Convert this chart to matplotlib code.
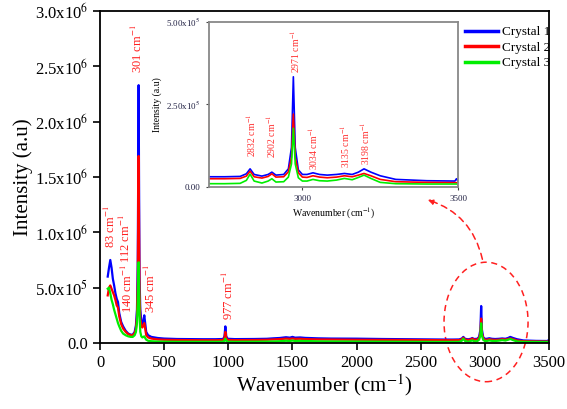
import matplotlib
matplotlib.use('Agg')
import matplotlib.pyplot as plt
from matplotlib.patches import Ellipse, FancyArrowPatch

plt.rcParams['font.family'] = ['Liberation Serif', 'DejaVu Serif']
plt.rcParams['mathtext.fontset'] = 'stix'

# Raman spectra, intensities in units of 1e4 counts
scale = 1e4
wavenumber = [60, 70, 80, 90, 100, 110, 120, 130, 140, 150, 165, 180, 200, 220, 240, 255,
              270, 280, 288, 294, 298, 301, 304, 308, 314, 322, 330, 338, 345, 352, 360,
              375, 400, 450, 500, 600, 700, 800, 900, 960, 970, 977, 984, 995, 1050, 1200,
              1300, 1350, 1400, 1450, 1480, 1500, 1520, 1560, 1600, 1700, 1800, 2000, 2200,
              2400, 2600, 2700, 2750, 2800, 2820, 2832, 2845, 2870, 2890, 2902, 2915, 2940,
              2955, 2965, 2971, 2977, 2987, 3000, 3015, 3034, 3055, 3080, 3110, 3135, 3160,
              3180, 3198, 3220, 3250, 3300, 3400, 3490, 3495, 3500]
crystal1 = [60, 68, 75, 68, 58, 52, 45, 40, 37, 27, 19, 15, 11, 8.5, 7.5, 7.5,
            10, 16, 30, 70, 160, 233, 150, 60, 30, 20, 17, 20, 25, 18, 10,
            7, 5.5, 4.5, 4, 3.6, 3.5, 3.4, 3.4, 3.6, 6, 15, 6, 3.8, 3.5, 3.6,
            3.8, 4.2, 4.5, 5.2, 4.8, 5.5, 4.8, 5.0, 4.6, 4.2, 4.0, 3.9, 3.6,
            3.4, 3.2, 3.1, 3.1, 3.2, 4.0, 5.5, 3.8, 3.3, 3.8, 4.5, 3.6, 3.8,
            5.5, 12, 33.4, 12, 5.2, 3.8, 3.8, 4.3, 3.8, 3.6, 3.8, 4.1, 3.8,
            4.5, 5.5, 4.5, 3.4, 2.3, 1.9, 1.8, 2.5, 1.8]
crystal2 = [43, 50, 52, 49, 46, 43, 39, 34, 32, 24, 17, 13, 10, 8, 7, 7,
            9, 13, 24, 55, 120, 169, 110, 45, 22, 15, 14, 16, 18, 13, 7,
            5, 4, 3.2, 2.9, 2.7, 2.6, 2.5, 2.5, 2.7, 4.5, 10, 4.5, 2.8, 2.6, 2.7,
            2.9, 3.2, 3.5, 3.9, 3.7, 4.0, 3.7, 3.8, 3.5, 3.2, 3.1, 2.9, 2.8,
            2.7, 2.6, 2.5, 2.5, 2.6, 3.3, 4.8, 3.1, 2.7, 3.2, 4.0, 3.0, 3.1,
            4.6, 9, 22.1, 9, 4.3, 3.0, 2.9, 3.4, 3.0, 2.8, 3.0, 3.4, 3.1,
            3.6, 4.1, 3.4, 2.3, 1.6, 1.4, 1.3, 1.3, 1.3]
crystal3 = [49, 50, 45, 39, 35, 30, 26, 22, 18, 15, 11, 8.5, 7, 6, 5.5, 5.5,
            7, 10, 18, 35, 60, 73, 55, 25, 10, 6, 5, 5.5, 6, 4.5, 3,
            2, 1.6, 1.3, 1.2, 1.1, 1.1, 1.1, 1.1, 1.2, 2, 4, 2, 1.2, 1.1, 1.2,
            1.3, 1.4, 1.6, 2.0, 1.8, 2.2, 1.8, 1.9, 1.8, 1.5, 1.4, 1.3, 1.2,
            1.1, 1.0, 1.0, 1.0, 1.1, 2.0, 3.9, 1.8, 1.2, 1.8, 2.5, 1.5, 1.6,
            3.0, 7, 17.8, 7, 2.8, 1.8, 1.8, 2.3, 1.9, 1.8, 2.1, 2.6, 2.2,
            2.9, 3.6, 2.6, 1.4, 1.0, 0.9, 0.9, 0.9, 0.9]
series_names = ['Crystal 1', 'Crystal 2', 'Crystal 3']
series_colors = ['#0000ff', '#ff0000', '#00ee00']

# peak labels: (position of text, height of text base)
main_peaks = ['83', '112', '140', '301', '345', '977']
main_peak_x = [80, 195, 215, 292, 390, 1005]
main_peak_y = [8.6e5, 7.2e5, 2.7e5, 2.44e6, 2.7e5, 2.1e5]
inset_peaks = ['2832', '2902', '2971', '3034', '3135', '3198']
inset_peak_x = [2834, 2901, 2976, 3036, 3138, 3202]
inset_peak_y = [9.1e4, 8.8e4, 3.45e5, 5.2e4, 5.8e4, 6.7e4]

main_yticks = [0, 0.5e6, 1.0e6, 1.5e6, 2.0e6, 2.5e6, 3.0e6]
main_ytick_labels = ['0.0', '5.0x10$^{5}$', '1.0x10$^{6}$', '1.5x10$^{6}$',
                     '2.0x10$^{6}$', '2.5x10$^{6}$', '3.0x10$^{6}$']
inset_yticks = [0, 2.5e5, 5e5]
inset_ytick_labels = ['0.00', '2.50x10$^{5}$', '5.00x10$^{5}$']

spectra = [[v * scale for v in s] for s in (crystal1, crystal2, crystal3)]

fig = plt.figure(figsize=(5.67, 4.09), dpi=100)
ax = fig.add_axes([0.1764, 0.1614, 0.7919, 0.8117])

for ys, name, c in zip(spectra, series_names, series_colors):
    ax.plot(wavenumber, ys, color=c, lw=1.6, label=name)

ax.set_xlim(0, 3500)
ax.set_ylim(0, 3e6)
ax.set_xticks(range(0, 3501, 500))
ax.set_yticks(main_yticks)
ax.set_yticklabels(main_ytick_labels)
ax.tick_params(labelsize=12, direction='out', length=5, width=1.2)
for sp in ax.spines.values():
    sp.set_linewidth(1.3)
ax.set_xlabel('Wavenumber (cm$^{-1}$)', fontsize=15, labelpad=1)
ax.set_ylabel('Intensity (a.u)', fontsize=15, labelpad=1)

for lab, px, py in zip(main_peaks, main_peak_x, main_peak_y):
    ax.text(px, py, lab + ' cm$^{-1}$', rotation=90, color='#ff2020', fontsize=9,
            ha='center', va='bottom')

leg = ax.legend(loc='upper left', bbox_to_anchor=(0.812, 0.955), frameon=False,
                fontsize=9.5, handlelength=2.5, handletextpad=0.3, labelspacing=0.25,
                borderpad=0, borderaxespad=0)
for line in leg.get_lines():
    line.set_linewidth(2.5)

# dashed ellipse round the C-H region and arrow to the inset
ell = Ellipse((3009, 1.9e5), 655, 1.08e6, fill=False, ec='#ff2020', ls=(0, (4, 3)),
              lw=1.1, clip_on=False)
ax.add_patch(ell)
arrow = FancyArrowPatch((483 / 567, 1 - 262 / 409), (425 / 567, 1 - 199 / 409),
                        transform=fig.transFigure, connectionstyle='arc3,rad=0.3',
                        arrowstyle='-|>', mutation_scale=8, color='#ff2020',
                        ls=(0, (4, 3)), lw=1.1)
fig.add_artist(arrow)

# inset
axi = fig.add_axes([0.3686, 0.5428, 0.4392, 0.4034])
for ys, c in zip(spectra, series_colors):
    axi.plot(wavenumber, ys, color=c, lw=1.2)
axi.set_xlim(2700, 3500)
axi.set_ylim(0, 5e5)
axi.set_xticks([3000, 3500])
axi.set_yticks(inset_yticks)
axi.set_yticklabels(inset_ytick_labels)
axi.tick_params(labelsize=6.5, length=2.5, width=0.8, colors='#444444', labelcolor='#222244')
for sp in axi.spines.values():
    sp.set_color('#888888')
    sp.set_linewidth(1.3)
axi.set_xlabel('Wavenumber (cm$^{-1}$)', fontsize=7, labelpad=2)
axi.set_ylabel('Intensity (a.u)', fontsize=7, labelpad=3)
for lab, px, py in zip(inset_peaks, inset_peak_x, inset_peak_y):
    axi.text(px, py, lab + ' cm$^{-1}$', rotation=90, color='#ff3030', fontsize=7,
             ha='center', va='bottom')

fig.savefig('out.png', dpi=100)
